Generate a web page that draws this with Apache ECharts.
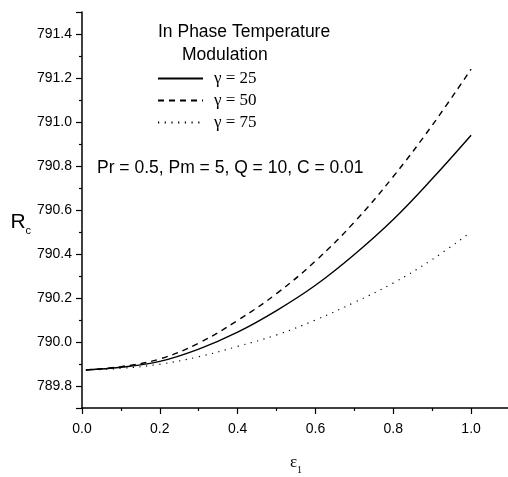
<!DOCTYPE html>
<html>
<head>
<meta charset="utf-8">
<script src="https://cdn.jsdelivr.net/npm/echarts@6/dist/echarts.min.js"></script>
<style>
  html, body { margin: 0; padding: 0; background: #fff; }
  #chart { width: 508px; height: 477px; }
</style>
</head>
<body>
<div id="chart"></div>
<script>
// epsilon_1 values (x)
const eps = [0.01, 0.1, 0.2, 0.3, 0.4, 0.5, 0.6, 0.7, 0.8, 0.9, 1.0];
// Rc for each gamma
const rcGamma25 = [789.873, 789.885, 789.912, 789.968, 790.045, 790.143, 790.258, 790.398, 790.557, 790.742, 790.940];
const rcGamma50 = [789.873, 789.888, 789.923, 789.995, 790.098, 790.220, 790.368, 790.545, 790.752, 790.985, 791.240];
const rcGamma75 = [789.873, 789.880, 789.899, 789.933, 789.980, 790.032, 790.100, 790.180, 790.268, 790.375, 790.500];
const seriesNames = ["\u03b3 = 25", "\u03b3 = 50", "\u03b3 = 75"];

const sans = "Liberation Sans";
const serif = "Liberation Serif";

function pairs(ys) {
  return eps.map((e, i) => [e, ys[i]]);
}

const chart = echarts.init(document.getElementById("chart"), null, { renderer: "canvas" });

const option = {
  backgroundColor: "#fff",
  animation: false,
  title: [
    {
      text: "In Phase Temperature",
      left: 153,
      top: 18,
      textStyle: { fontFamily: sans, fontSize: 17.5, fontWeight: "normal", color: "#000" }
    },
    {
      text: "Modulation",
      left: 177,
      top: 41,
      textStyle: { fontFamily: sans, fontSize: 17.5, fontWeight: "normal", color: "#000" }
    },
    {
      text: "Pr = 0.5, Pm = 5, Q = 10, C = 0.01",
      left: 92,
      top: 154,
      textStyle: { fontFamily: sans, fontSize: 17.5, fontWeight: "normal", color: "#000" }
    }
  ],
  legend: {
    orient: "vertical",
    left: 152,
    top: 65,
    itemWidth: 45,
    itemHeight: 14,
    itemGap: 5,
    data: seriesNames,
    itemStyle: { opacity: 0 },
    textStyle: { fontFamily: serif, fontSize: 17, color: "#000", padding: [0, 0, 0, 6] }
  },
  grid: {
    left: 82,
    top: 12,
    right: -2,
    bottom: 69,
    containLabel: false,
    outerBoundsMode: "none"
  },
  xAxis: {
    type: "value",
    min: 0,
    max: 1.1,
    interval: 0.2,
    name: "{e|\u03b5}{s|1}",
    nameLocation: "middle",
    nameGap: 43,
    nameTextStyle: {
      rich: {
        e: { fontFamily: serif, fontSize: 17, color: "#000" },
        s: { fontFamily: serif, fontSize: 10, color: "#000", padding: [14, 0, 0, 0] }
      }
    },
    axisLine: { onZero: false, lineStyle: { color: "#000", width: 1.5 } },
    axisTick: { length: 6, lineStyle: { color: "#000", width: 1.2 } },
    minorTick: { show: true, splitNumber: 2, length: 3, lineStyle: { color: "#000", width: 1.2 } },
    splitLine: { show: false },
    axisLabel: {
      margin: 14,
      fontFamily: sans,
      fontSize: 14,
      color: "#000",
      showMaxLabel: false,
      formatter: v => v.toFixed(1)
    }
  },
  yAxis: {
    type: "value",
    min: 789.7,
    max: 791.5,
    splitNumber: 9,
    name: "{r|R}{c|c}",
    nameLocation: "middle",
    nameRotate: 0,
    nameGap: 50,
    nameTextStyle: {
      padding: [24, 0, 0, 0],
      rich: {
        r: { fontFamily: sans, fontSize: 21, color: "#000" },
        c: { fontFamily: sans, fontSize: 11, color: "#000", padding: [18, 0, 0, 0] }
      }
    },
    axisLine: { onZero: false, lineStyle: { color: "#000", width: 1.5 } },
    axisTick: { length: 6, lineStyle: { color: "#000", width: 1.2 } },
    minorTick: { show: true, splitNumber: 2, length: 3, lineStyle: { color: "#000", width: 1.2 } },
    splitLine: { show: false },
    axisLabel: {
      margin: 10,
      fontFamily: sans,
      fontSize: 14,
      color: "#000",
      showMinLabel: false,
      showMaxLabel: false,
      formatter: v => v.toFixed(1)
    }
  },
  series: [
    {
      name: seriesNames[0],
      type: "line",
      data: pairs(rcGamma25),
      smooth: 0.4,
      symbol: "none",
      lineStyle: { color: "#000", width: 1.4, type: "solid" }
    },
    {
      name: seriesNames[1],
      type: "line",
      data: pairs(rcGamma50),
      smooth: 0.4,
      symbol: "none",
      lineStyle: { color: "#000", width: 1.4, type: [6, 5] }
    },
    {
      name: seriesNames[2],
      type: "line",
      data: pairs(rcGamma75),
      smooth: 0.4,
      symbol: "none",
      lineStyle: { color: "#000", width: 1.2, type: [1.2, 5.5] }
    }
  ]
};

chart.setOption(option);
</script>
</body>
</html>
